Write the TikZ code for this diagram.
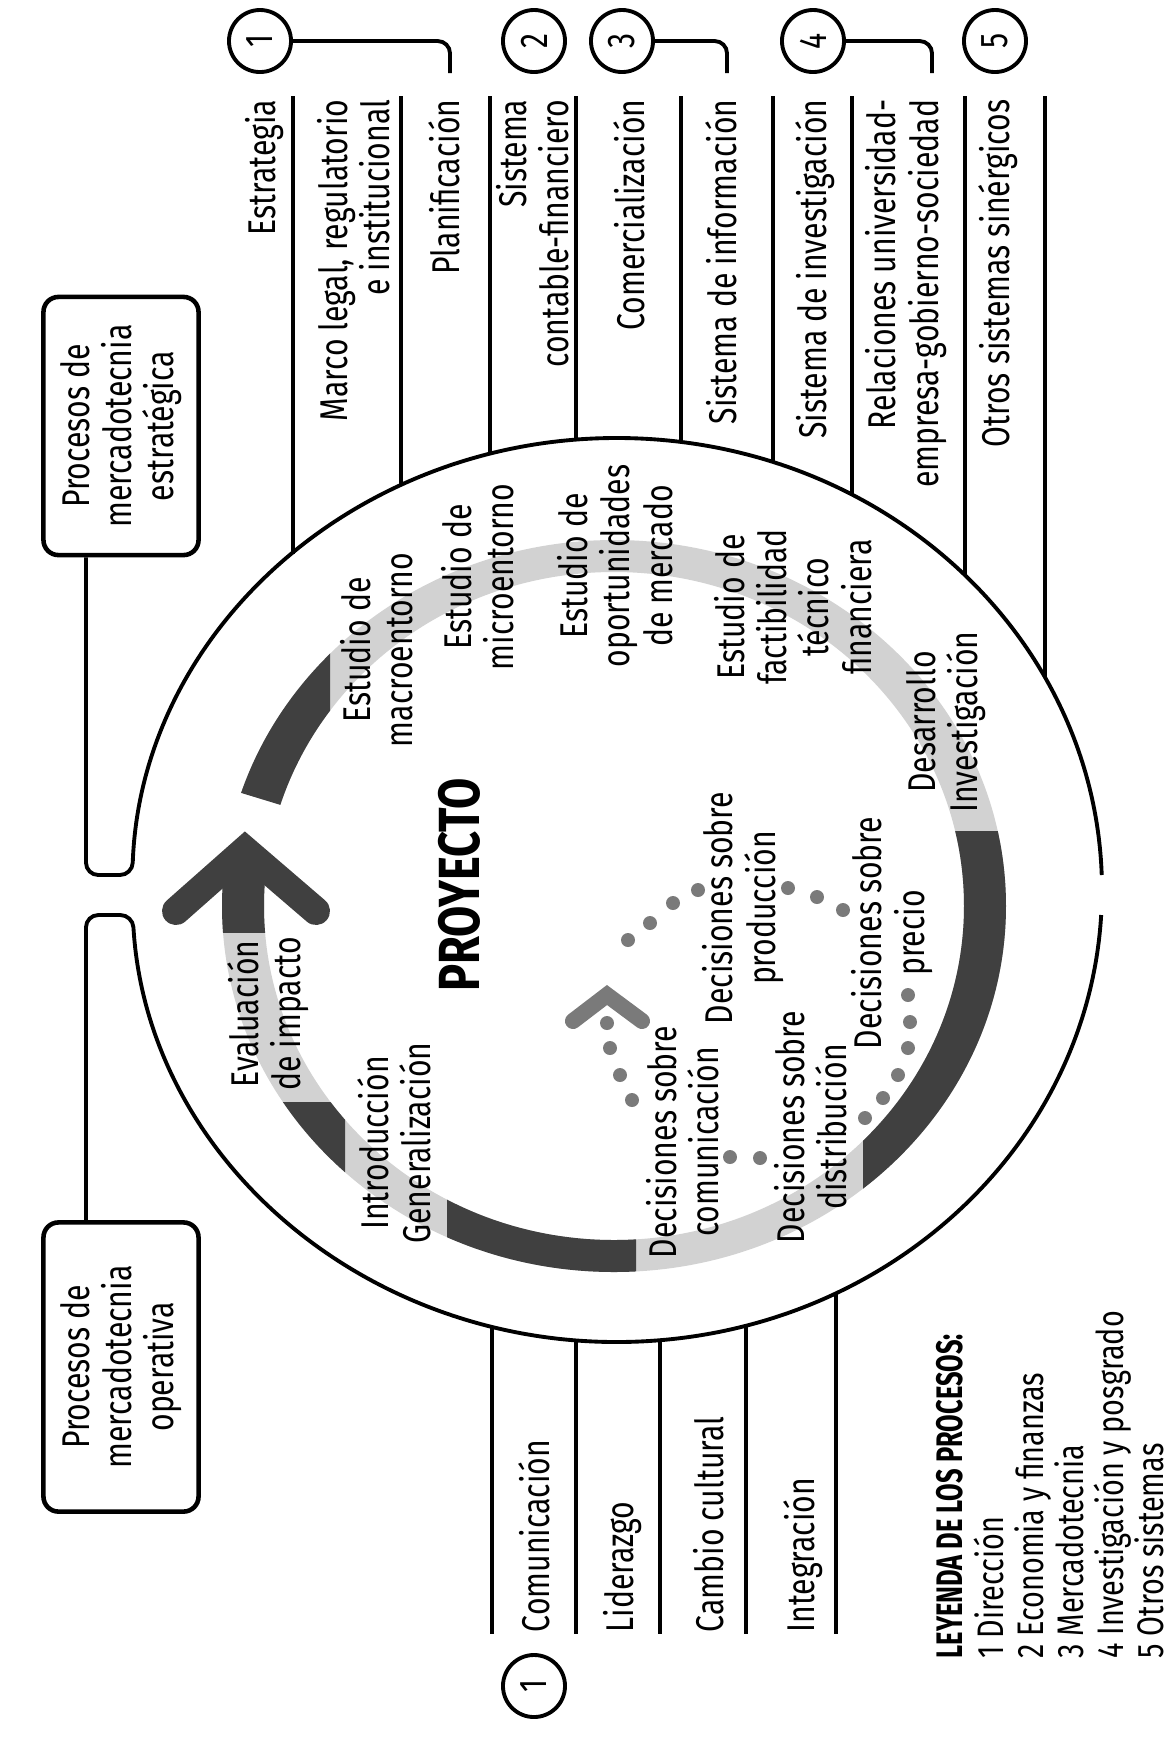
\documentclass[tikz,border=0pt]{standalone}
\usepackage{fontspec}
\setmainfont{Fira Sans}[FakeStretch=0.78]
\newfontfamily\condbold{Fira Sans}[FakeStretch=0.69]
\usetikzlibrary{positioning}

\definecolor{ringdark}{HTML}{404040}
\definecolor{ringlight}{HTML}{D2D2D2}
\definecolor{dotgray}{HTML}{7A7A7A}
\newcommand{\lblfont}{\fontsize{11pt}{12pt}\selectfont}
\newcommand{\legfont}{\fontsize{10.5pt}{11.4pt}\selectfont}

\tikzset{
  vtxt/.style={rotate=90, inner sep=0pt, font=\lblfont},
  toplbl/.style={vtxt, anchor=east, align=right},
  botlbl/.style={vtxt, anchor=west, align=left},
  inlbl/.style={vtxt, align=center},
  procbox/.style={vtxt, draw, line width=1.3pt, rounded corners=0.15cm, minimum height=1.55cm, align=center},
  numcirc/.style={vtxt, draw, circle, line width=1.1pt, minimum size=0.62cm},
  sepline/.style={line width=1.2pt},
  bracket/.style={line width=1.1pt, rounded corners=3.5pt},
  annulus/.style={insert path={(614,906) ellipse [x radius=392, y radius=366] (614,906) ellipse [x radius=350, y radius=334]}},
}

\begin{document}
\begin{tikzpicture}[x=0.01cm, y=-0.01cm]
\useasboundingbox (0,0) rectangle (1176,1753);

% ring of the project cycle
\begin{scope}
  \clip (153,766) -- (153,300) -- (1200,300) -- (1200,1500) -- (100,1500) -- (100,858) -- (456.2,858) -- cycle;
  \fill[ringlight, even odd rule, annulus];
\end{scope}
\begin{scope}
  \clip (153,766) -- (153,400) -- (330,400) -- (330,820) -- cycle;
  \fill[ringdark, even odd rule, annulus];
\end{scope}
\begin{scope}
  \clip (863,831) rectangle (1200,1500);
  \fill[ringdark, even odd rule, annulus];
\end{scope}
\begin{scope}
  \clip (447,1000) rectangle (636,1500);
  \fill[ringdark, even odd rule, annulus];
\end{scope}
\begin{scope}
  \clip (100,1102) rectangle (345,1500);
  \fill[ringdark, even odd rule, annulus];
\end{scope}
\begin{scope}
  \clip (150,860) rectangle (340,932);
  \fill[ringdark, even odd rule, annulus];
\end{scope}
\draw[ringdark, line width=0.28cm, line cap=round, line join=miter] (176,911) -- (245,850) -- (316,911);

% inner dotted loop
\foreach \p in {(607,1023),(610,1048),(620,1075),(632,1100),(730,1157),(760,1158),(865,1118),(883,1098),(898,1075),(908,1048),(910,1022),(908,995),(843,910),(817,897),(788,888),(698,890),(673,903),(650,923),(628,940)}
  \fill[dotgray] \p circle[radius=7];
\draw[dotgray, line width=0.16cm, line cap=round, line join=miter] (573,1021) -- (607,995) -- (642,1021);

% texts inside the circle
\node[inlbl, font=\fontsize{16.5pt}{18pt}\selectfont\bfseries] (proy) at (459,885) {PROYECTO};
\node[inlbl] (macro) at (377,650) {Estudio de\\macroentorno};
\node[inlbl] (micro) at (478,577) {Estudio de\\microentorno};
\node[inlbl] (oport) at (615,566) {Estudio de\\oportunidades\\de mercado};
\node[inlbl] (factib) at (793,607) {Estudio de\\factibilidad\\técnico\\financiera};
\node[inlbl] (desarr) at (946,722) {Desarrollo\\Investigación};
\node[inlbl] (evalu) at (268,1014) {Evaluación\\de impacto};
\node[inlbl] (intro) at (394,1143) {Introducción\\Generalización};
\node[inlbl] (dcom) at (683,1142) {Decisiones sobre\\comunicación};
\node[inlbl] (ddist) at (811,1127) {Decisiones sobre\\distribución};
\node[inlbl] (dprod) at (743,908) {Decisiones sobre\\producción};
\node[inlbl] (dprec) at (892,933) {Decisiones sobre\\precio};

% boxes and outer circle
\node[procbox, minimum width=2.58cm] (strat) at (121,426) {Procesos de\\mercadotecnia\\estratégica};
\node[procbox, minimum width=2.89cm] (oper) at (121,1367) {Procesos de\\mercadotecnia\\operativa};
\draw[bracket] (86,0 |- strat.west) |- (132.3,875) [sharp corners] arc[start angle=181.9, end angle=358.1, x radius=485, y radius=452];
\draw[bracket] (86,0 |- oper.east) |- (132.7,915) [sharp corners] arc[start angle=176.83, end angle=3.17, x radius=485, y radius=452];

% process lines
\foreach \x in {293,401,490,576,681,773,852,965,1045}{
  \pgfmathsetmacro{\ye}{890-452*sqrt(1-((\x-617)/485)^2)}
  \draw[sepline] (\x,96) -- (\x,\ye);
}
\foreach \x in {492,576,660,746,836}{
  \pgfmathsetmacro{\ye}{890+452*sqrt(1-((\x-617)/485)^2)}
  \draw[sepline] (\x,\ye) -- (\x,1634);
}

% process labels
\node[toplbl] (estr) at (265,99) {Estrategia};
\node[toplbl] (marco) at (354,99) {Marco legal, regulatorio\\e institucional};
\node[toplbl] (plan) at (444,99) {Planificación};
\node[toplbl] (cont) at (533,99) {Sistema\\contable-financiero};
\node[toplbl] (comer) at (629,99) {Comercialización};
\node[toplbl] (sinfo) at (721,99) {Sistema de información};
\node[toplbl] (sinv) at (815,99) {Sistema de investigación};
\node[toplbl] (relac) at (906,99) {Relaciones universidad-\\empresa-gobierno-sociedad};
\node[toplbl] (otros) at (998,99) {Otros sistemas sinérgicos};
\node[botlbl] (comu) at (534,1633) {Comunicación};
\node[botlbl] (lider) at (623,1633) {Liderazgo};
\node[botlbl] (camb) at (709,1633) {Cambio cultural};
\node[botlbl] (integ) at (803,1633) {Integración};

% numbered groups
\node[numcirc] (n1) at (260,41) {1};
\node[numcirc] (n2) at (534,41) {2};
\node[numcirc] (n3) at (622,41) {3};
\node[numcirc] (n4) at (813,41) {4};
\node[numcirc] (n5) at (995,41) {5};
\node[numcirc] (m1) at (534,1686) {1};
\draw[bracket] (n1) -| (450,73);
\draw[bracket] (n3) -| (727,73);
\draw[bracket] (n4) -| (932,73);

% legend
\node[vtxt, anchor=north west, align=left, font=\legfont] (leyenda) at (936,1659) {{\condbold\bfseries LEYENDA DE LOS PROCESOS:}\\1 Dirección\\2 Economia y finanzas\\3 Mercadotecnia\\4 Investigación y posgrado\\5 Otros sistemas};
\end{tikzpicture}
\end{document}
